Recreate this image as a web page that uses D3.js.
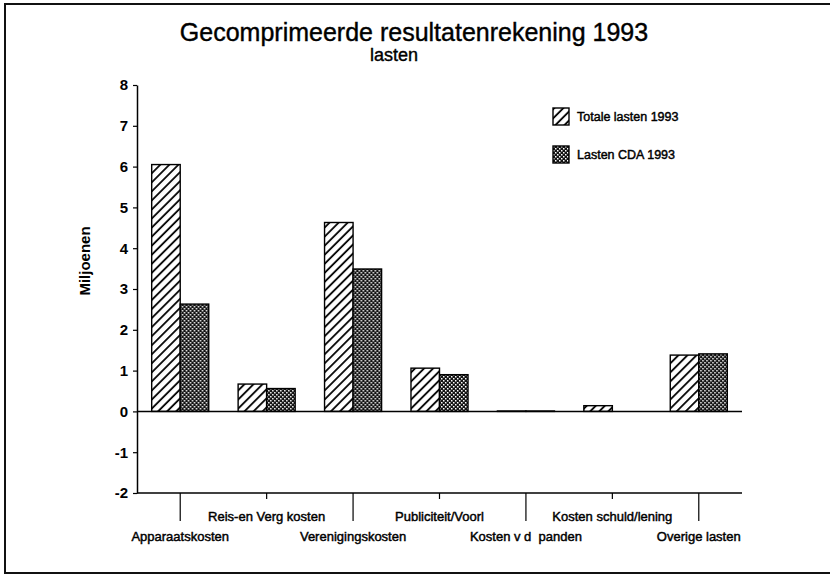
<!DOCTYPE html>
<html>
<head>
<meta charset="utf-8">
<script src="https://cdn.jsdelivr.net/npm/d3@7"></script>
<style>
  body { margin: 0; background: #fff; }
  svg { display: block; font-family: "Liberation Sans", Arial, sans-serif; }
</style>
</head>
<body>
<div id="chart"></div>
<script>
// chart data
const categories = [
  "Apparaatskosten", "Reis-en Verg kosten", "Verenigingskosten",
  "Publiciteit/Voorl", "Kosten v d  panden", "Kosten schuld/lening", "Overige lasten"
];
const series = ["Totale lasten 1993", "Lasten CDA 1993"];
const totaleLasten = [6.05, 0.67, 4.63, 1.06, 0.01, 0.14, 1.38];
const lastenCDA = [2.63, 0.56, 3.49, 0.90, 0.01, 0, 1.41];
const yTicks = [-2, -1, 0, 1, 2, 3, 4, 5, 6, 7, 8];

const width = 830, height = 575;

const svg = d3.select("#chart").append("svg")
  .attr("width", width)
  .attr("height", height);

// fill patterns
const defs = svg.append("defs");
const hatch = defs.append("pattern")
  .attr("id", "hatch")
  .attr("patternUnits", "userSpaceOnUse")
  .attr("width", 6.4).attr("height", 6.4)
  .attr("patternTransform", "rotate(45)");
hatch.append("rect").attr("width", 6.4).attr("height", 6.4).attr("fill", "#fff");
hatch.append("line")
  .attr("x1", 1).attr("y1", 0).attr("x2", 1).attr("y2", 6.4)
  .attr("stroke", "#000").attr("stroke-width", 1.8);

const dots = defs.append("pattern")
  .attr("id", "dots")
  .attr("patternUnits", "userSpaceOnUse")
  .attr("width", 4).attr("height", 4);
dots.append("rect").attr("width", 4).attr("height", 4).attr("fill", "#111");
dots.append("rect").attr("x", 0).attr("y", 0).attr("width", 1.5).attr("height", 1.5).attr("fill", "#fff");
dots.append("rect").attr("x", 2).attr("y", 2).attr("width", 1.5).attr("height", 1.5).attr("fill", "#fff");

const fills = ["url(#hatch)", "url(#dots)"];

// frame (scanned page border: left, top, bottom)
svg.append("path")
  .attr("d", "M830,4H5V573H830")
  .attr("fill", "none")
  .attr("stroke", "#111")
  .attr("stroke-width", 2);

// scales
const y = d3.scaleLinear().domain([-2, 8]).range([493, 85]);
const x0 = d3.scaleBand().domain(categories).range([137, 742])
  .paddingInner(0.34).paddingOuter(0.17);
const x1 = d3.scaleBand().domain(series).range([0, x0.bandwidth()]);

// title
svg.append("text")
  .attr("x", 414).attr("y", 41)
  .attr("text-anchor", "middle")
  .attr("font-size", 25)
  .attr("stroke", "#000").attr("stroke-width", 0.4)
  .text("Gecomprimeerde resultatenrekening 1993");
svg.append("text")
  .attr("x", 394).attr("y", 61)
  .attr("text-anchor", "middle")
  .attr("font-size", 18)
  .attr("stroke", "#000").attr("stroke-width", 0.4)
  .text("lasten");

// y axis
const yAxis = svg.append("g")
  .attr("transform", "translate(137,0)")
  .call(d3.axisLeft(y).tickValues(yTicks).tickSize(4).tickSizeOuter(0)
    .tickPadding(5).tickFormat(d => String(d)));
yAxis.select(".domain").attr("stroke-width", 1.5);
yAxis.selectAll(".tick line").attr("stroke-width", 1.2);
yAxis.selectAll(".tick text")
  .attr("font-family", "Liberation Sans, Arial, sans-serif")
  .attr("font-size", 15)
  .attr("font-weight", "bold");

svg.append("text")
  .attr("transform", "translate(90,261) rotate(-90)")
  .attr("text-anchor", "middle")
  .attr("font-size", 15)
  .attr("font-weight", "bold")
  .text("Miljoenen");

// bars
const rows = categories.map((c, i) => ({
  cat: c,
  vals: [totaleLasten[i], lastenCDA[i]]
}));

const groups = svg.append("g").selectAll("g")
  .data(rows)
  .join("g")
  .attr("transform", d => `translate(${x0(d.cat)},0)`);

groups.selectAll("rect")
  .data(d => d.vals.map((v, j) => ({ key: series[j], v: v, j: j })))
  .join("rect")
  .attr("x", d => x1(d.key))
  .attr("y", d => y(Math.max(0, d.v)))
  .attr("width", x1.bandwidth())
  .attr("height", d => Math.abs(y(d.v) - y(0)))
  .attr("fill", d => fills[d.j])
  .attr("stroke", "#000")
  .attr("stroke-width", 1.4);

// zero line
svg.append("line")
  .attr("x1", 137).attr("x2", 742)
  .attr("y1", y(0)).attr("y2", y(0))
  .attr("stroke", "#000").attr("stroke-width", 1.5);

// x axis at the bottom with staggered labels
const xAxis = svg.append("g");
xAxis.append("line")
  .attr("x1", 137).attr("x2", 742)
  .attr("y1", y(-2)).attr("y2", y(-2))
  .attr("stroke", "#000").attr("stroke-width", 1.5);

const catCenter = c => x0(c) + x0.bandwidth() / 2;

xAxis.selectAll(".xtick")
  .data(categories)
  .join("line")
  .attr("class", "xtick")
  .attr("x1", catCenter).attr("x2", catCenter)
  .attr("y1", y(-2))
  .attr("y2", (d, i) => i % 2 === 0 ? y(-2) + 28 : y(-2) + 6)
  .attr("stroke", "#000").attr("stroke-width", 1.2);

xAxis.selectAll(".xlabel")
  .data(categories)
  .join("text")
  .attr("class", "xlabel")
  .attr("x", catCenter)
  .attr("y", (d, i) => i % 2 === 0 ? 541 : 521)
  .attr("text-anchor", "middle")
  .attr("font-size", 13)
  .attr("stroke", "#000")
  .attr("stroke-width", 0.45)
  .style("white-space", "pre")
  .text(d => d);

// legend
const legend = svg.append("g")
  .selectAll("g")
  .data(series)
  .join("g")
  .attr("transform", (d, i) => `translate(553,${108 + i * 38})`);

legend.append("rect")
  .attr("width", 16).attr("height", 17)
  .attr("fill", (d, i) => fills[i])
  .attr("stroke", "#000").attr("stroke-width", 1.4);

legend.append("text")
  .attr("x", 24).attr("y", 13)
  .attr("font-size", 12.5)
  .attr("stroke", "#000")
  .attr("stroke-width", 0.45)
  .text(d => d);
</script>
</body>
</html>
